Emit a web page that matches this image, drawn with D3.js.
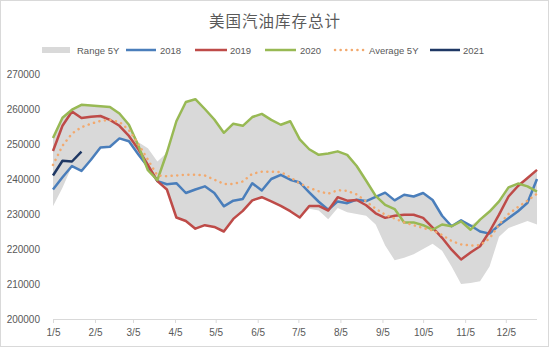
<!DOCTYPE html>
<html><head><meta charset="utf-8">
<script src="https://cdn.jsdelivr.net/npm/d3@7/dist/d3.min.js"></script>
<style>body{margin:0;background:#fff}svg{display:block}</style>
</head><body>
<svg id="c" width="550" height="348"></svg>
<script>
const weeks = ["1/5","1/12","1/19","1/26","2/2","2/9","2/16","2/23","3/2","3/9","3/16","3/23","3/30",
"4/6","4/13","4/20","4/27","5/4","5/11","5/18","5/25","6/1","6/8","6/15","6/22","6/29",
"7/6","7/13","7/20","7/27","8/3","8/10","8/17","8/24","8/31","9/7","9/14","9/21","9/28",
"10/5","10/12","10/19","10/26","11/2","11/9","11/16","11/23","11/30","12/7","12/14","12/21","12/28"];
const tickLabels = ["1/5","2/5","3/5","4/5","5/5","6/5","7/5","8/5","9/5","10/5","11/5","12/5"];
const yTicks = [200000,210000,220000,230000,240000,250000,260000,270000];

const s2018 = [237000,240500,243700,242300,245500,249000,249200,251600,250800,247000,243500,239400,238500,
238800,236000,237000,237900,236000,232200,233800,234300,238800,236700,240000,241200,239800,
239000,236200,233500,231200,233600,233100,234100,233700,234900,236100,233900,235500,235000,
236000,234000,229500,226500,228200,226700,225000,224400,226800,228800,230800,233200,240000];
const s2019 = [248000,255200,259300,257400,257800,258000,256900,255200,252300,248500,244000,239400,237000,
229000,228000,225800,226800,226300,225000,228600,230900,233900,234800,233600,232300,230800,
229000,232300,232300,231000,234800,233800,234000,232500,230200,228900,229500,229800,229800,
228900,226100,223200,219800,217000,219000,220800,225000,229800,235000,238000,240300,242600];
const s2020 = [251700,257500,259800,261200,261000,260800,260600,258700,255500,249500,242500,239700,247500,
256500,262000,262800,260000,257000,253200,255800,255200,257700,258600,256900,255500,256500,
251300,248500,246900,247300,247900,246900,243700,239500,235200,232600,231400,227600,227600,
226800,225500,227000,226500,227900,225500,228400,230700,233600,237600,238700,237900,236400];
const avg5 = [244000,249500,253000,254800,255800,256600,256900,256300,254000,250000,245500,241000,240800,
241000,241200,241200,241000,239800,238600,238600,239300,241500,242100,242100,242000,240500,
238700,237500,236500,235800,236800,236600,235600,233600,231500,229800,228700,227600,226800,
226000,225300,224000,222300,221300,221000,221100,223000,227000,230000,232000,233800,235800];
const s2021 = [241000,245200,245000,247800];
const rangeMin = [232200,237500,243700,242300,245500,249000,249200,251500,250800,246500,243000,239300,237000,
229000,227800,225600,226600,226100,224800,228400,230700,233700,234600,233400,232100,230600,
228800,231500,231000,228500,231700,230500,230000,229500,227000,221000,216800,217500,218500,
220000,221500,219500,215000,210000,210300,210800,215000,223500,226000,227000,228000,227000];
const rangeMax = [251700,257500,259800,261200,261000,260800,260600,258700,255500,250500,248800,245000,247500,
256500,262000,262800,260000,257000,253200,255800,255200,257700,258600,256900,255500,256500,
251300,248500,246900,247300,247900,246900,243700,239500,235200,236100,233900,235500,235000,
236000,234300,229500,226600,228200,226800,228400,230700,233600,237600,238700,240300,242600];

const parse = s => { const [m,d] = s.split("/").map(Number); return new Date(2021, m-1, d); };
const svg = d3.select("#c");
const txt = "#595959";
const font = "'Liberation Sans', Arial, sans-serif";

svg.append("rect").attr("x",0.5).attr("y",0.5).attr("width",548).attr("height",346)
  .attr("fill","#fff").attr("stroke","#d9d9d9");

const x = d3.scaleTime().domain([parse(weeks[0]), parse(weeks[weeks.length-1])]).range([53,537]);
const y = d3.scaleLinear().domain([200000,270000]).range([319,74]);

// band
const area = d3.area().x((d,i)=>x(parse(weeks[i]))).y0((d,i)=>y(rangeMin[i])).y1((d,i)=>y(rangeMax[i]));
svg.append("path").datum(rangeMin).attr("d",area).attr("fill","#d9d9d9");

const line = d3.line().x((d,i)=>x(parse(weeks[i]))).y(d=>y(d));
const dots = "0.1,5.5";
const series = [
  {v:s2018, c:"#4a7ebb"},
  {v:s2019, c:"#be4b48"},
  {v:s2020, c:"#98b954"},
  {v:avg5, c:"#f2a96e", dash:dots},
  {v:s2021, c:"#1f3864"}
];
series.forEach(s=>{
  svg.append("path").datum(s.v).attr("d",line).attr("fill","none")
    .attr("stroke",s.c).attr("stroke-width",2.5).attr("stroke-linejoin","round")
    .attr("stroke-dasharray",s.dash||null).attr("stroke-linecap", s.dash?"round":"butt");
});

// y axis labels
svg.append("g").selectAll("text").data(yTicks).join("text")
  .attr("x",40).attr("y",d=>y(d)+3.5).attr("text-anchor","end")
  .attr("font-family",font).attr("font-size",10).attr("fill",txt).text(d=>d);

// x axis
const xa = d3.axisBottom(x).tickValues(tickLabels.map(parse)).tickFormat((d,i)=>tickLabels[i]).tickSize(4).tickSizeOuter(0);
const gx = svg.append("g").attr("transform","translate(0,319)").call(xa);
gx.select(".domain").attr("stroke","#d9d9d9").attr("d","M53,0.5H537");
gx.selectAll(".tick line").attr("stroke","#d9d9d9");
gx.selectAll(".tick text").attr("font-family",font).attr("font-size",10).attr("fill",txt).attr("dy","0.95em");

// title
svg.append("text").attr("x",275).attr("y",27).attr("text-anchor","middle")
  .attr("font-family","'Noto Sans CJK SC', sans-serif").attr("font-size",15.5).attr("fill",txt)
  .attr("letter-spacing",1).text("美国汽油库存总计");

// legend
const legend = [
  {t:"Range 5Y", x0:42, x1:70, tx:77, band:true},
  {t:"2018", x0:126, x1:156, tx:160, c:"#4a7ebb"},
  {t:"2019", x0:195, x1:227, tx:230, c:"#be4b48"},
  {t:"2020", x0:265, x1:296, tx:300, c:"#98b954"},
  {t:"Average 5Y", x0:335, x1:365, tx:369, c:"#f2a96e", dash:dots},
  {t:"2021", x0:430, x1:460, tx:463, c:"#1f3864"}
];
const lg = svg.append("g");
legend.forEach(l=>{
  if (l.band) lg.append("rect").attr("x",l.x0).attr("y",47).attr("width",l.x1-l.x0).attr("height",6).attr("fill","#d9d9d9");
  else lg.append("line").attr("x1",l.x0).attr("x2",l.x1).attr("y1",50).attr("y2",50)
      .attr("stroke",l.c).attr("stroke-width",2.5).attr("stroke-dasharray",l.dash||null).attr("stroke-linecap",l.dash?"round":"butt");
  lg.append("text").attr("x",l.tx).attr("y",53.5).attr("font-family",font).attr("font-size",9.5)
    .attr("fill",txt).text(l.t);
});
</script>
</body></html>
